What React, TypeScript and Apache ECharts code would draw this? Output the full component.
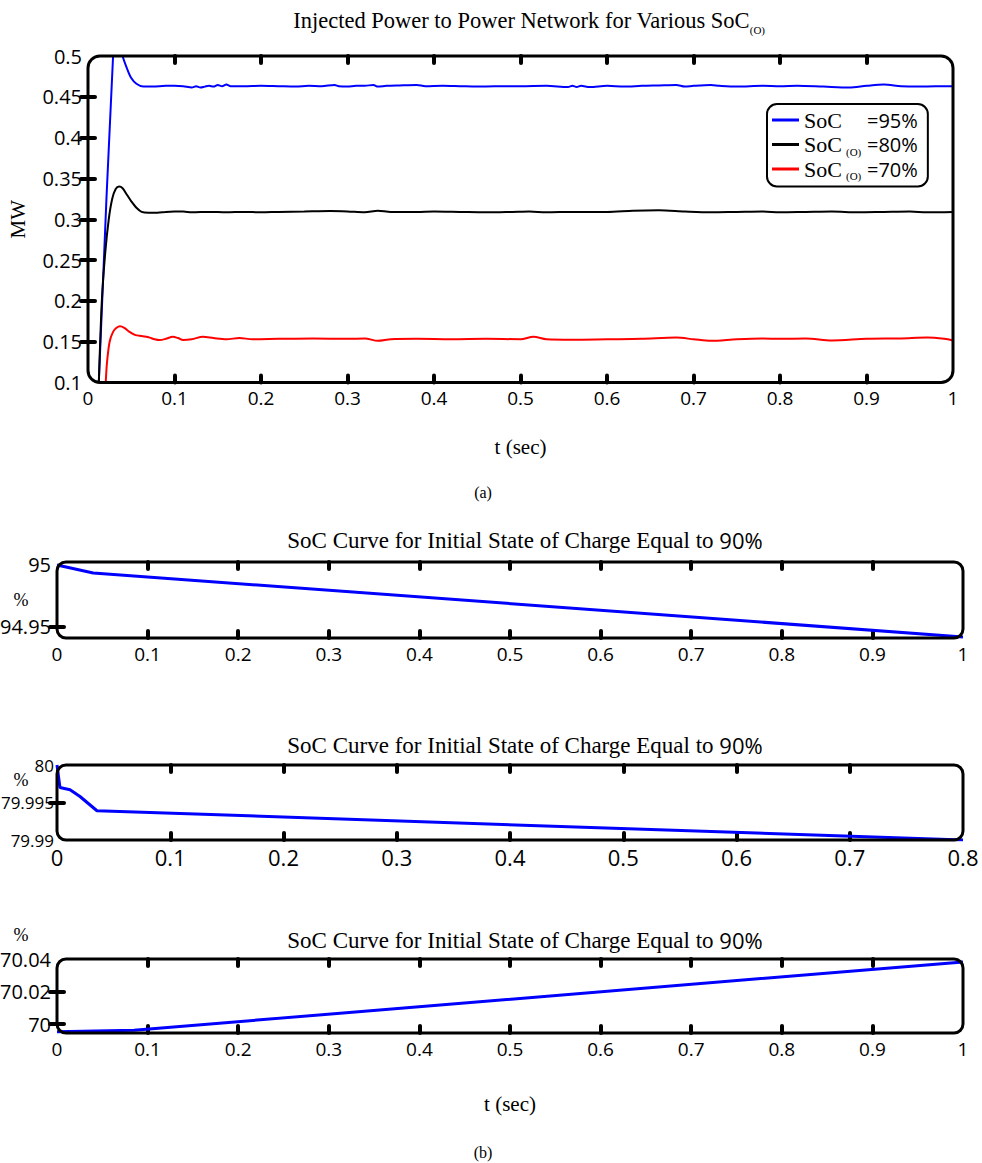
import React, { useEffect, useRef } from 'react';
import * as echarts from 'echarts';

// ---------- data ----------
const seriesNames = ['SoC=95%', 'SoC(O)=80%', 'SoC(O)=70%'];

const blueSoC95: number[][] = [
  [0.0125, 0.1], [0.029, 0.5], [0.034, 0.53], [0.040, 0.5], [0.045, 0.485], [0.05, 0.473],
  [0.056, 0.466], [0.064, 0.4625], [0.075, 0.4625], [0.09, 0.4635], [0.1, 0.4635], [0.11, 0.463],
  [0.12, 0.4615], [0.125, 0.463], [0.13, 0.4615], [0.135, 0.4625], [0.14, 0.4635], [0.145, 0.4625],
  [0.15, 0.4645], [0.155, 0.463], [0.16, 0.465], [0.165, 0.463], [0.18, 0.463], [0.2, 0.4635],
  [0.22, 0.463], [0.24, 0.4625], [0.255, 0.4635], [0.27, 0.463], [0.285, 0.4645], [0.29, 0.463],
  [0.3, 0.4625], [0.31, 0.4635], [0.32, 0.4635], [0.33, 0.4645], [0.335, 0.4625], [0.345, 0.4635],
  [0.36, 0.464], [0.38, 0.4645], [0.39, 0.463], [0.41, 0.4635], [0.43, 0.463], [0.45, 0.4625],
  [0.47, 0.463], [0.5, 0.463], [0.53, 0.4635], [0.555, 0.462], [0.56, 0.4635], [0.565, 0.462],
  [0.57, 0.4635], [0.58, 0.462], [0.6, 0.4635], [0.62, 0.4625], [0.64, 0.4635], [0.66, 0.464],
  [0.68, 0.4645], [0.69, 0.4625], [0.7, 0.4635], [0.72, 0.4645], [0.73, 0.4635], [0.75, 0.4625],
  [0.78, 0.4635], [0.8, 0.463], [0.82, 0.4635], [0.85, 0.4625], [0.88, 0.4615], [0.9, 0.4635],
  [0.92, 0.465], [0.94, 0.463], [0.96, 0.4625], [0.98, 0.463], [1, 0.463],
];

const blackSoC80: number[][] = [
  [0.0125, 0.1], [0.016, 0.2], [0.02, 0.26], [0.024, 0.3], [0.028, 0.325], [0.032, 0.337],
  [0.036, 0.34], [0.04, 0.338], [0.045, 0.33], [0.05, 0.322], [0.056, 0.314], [0.062, 0.309],
  [0.07, 0.308], [0.08, 0.308], [0.09, 0.309], [0.1, 0.3095], [0.11, 0.3095], [0.12, 0.3085],
  [0.14, 0.309], [0.16, 0.3085], [0.18, 0.309], [0.2, 0.3085], [0.22, 0.309], [0.25, 0.3095],
  [0.28, 0.31], [0.3, 0.3095], [0.32, 0.3085], [0.335, 0.3105], [0.35, 0.309], [0.38, 0.309],
  [0.4, 0.3095], [0.43, 0.309], [0.46, 0.3085], [0.49, 0.309], [0.51, 0.3095], [0.53, 0.3085],
  [0.56, 0.309], [0.6, 0.309], [0.63, 0.3105], [0.66, 0.311], [0.69, 0.3095], [0.72, 0.3085],
  [0.75, 0.309], [0.78, 0.3095], [0.8, 0.3085], [0.83, 0.309], [0.86, 0.3095], [0.89, 0.3085],
  [0.92, 0.309], [0.95, 0.3095], [0.97, 0.3085], [1, 0.309],
];

const redSoC70: number[][] = [
  [0.0205, 0.1], [0.022, 0.125], [0.025, 0.15], [0.029, 0.162], [0.033, 0.167], [0.037, 0.169],
  [0.042, 0.167], [0.048, 0.162], [0.055, 0.158], [0.062, 0.157], [0.07, 0.1555], [0.077, 0.153],
  [0.083, 0.152], [0.09, 0.1535], [0.098, 0.156], [0.104, 0.1545], [0.11, 0.152], [0.12, 0.153],
  [0.133, 0.156], [0.145, 0.1545], [0.16, 0.153], [0.175, 0.1545], [0.19, 0.153], [0.22, 0.1535],
  [0.26, 0.154], [0.3, 0.1535], [0.32, 0.154], [0.335, 0.151], [0.35, 0.153], [0.38, 0.1535],
  [0.42, 0.153], [0.46, 0.1535], [0.5, 0.153], [0.515, 0.156], [0.53, 0.153], [0.56, 0.1525],
  [0.6, 0.153], [0.64, 0.1535], [0.68, 0.155], [0.7, 0.153], [0.72, 0.151], [0.75, 0.153],
  [0.78, 0.154], [0.8, 0.1535], [0.83, 0.154], [0.86, 0.1515], [0.9, 0.1535], [0.94, 0.154],
  [0.97, 0.155], [0.99, 0.1535], [1, 0.1515],
];

const socCurve95: number[][] = [[0, 95.0], [0.04, 94.9935], [1, 94.9419]];
const socCurve80: number[][] = [
  [0, 80.0], [0.0026, 79.997], [0.0115, 79.9967], [0.0203, 79.9958], [0.0274, 79.9949],
  [0.0353, 79.9939], [0.8, 79.99],
];
const socCurve70: number[][] = [[0, 69.9953], [0.085, 69.9962], [1, 70.0382]];

// tick labels / tick positions
const xTicks10 = [0.1, 0.2, 0.3, 0.4, 0.5, 0.6, 0.7, 0.8, 0.9];
const xTicks8 = [0.1, 0.2, 0.3, 0.4, 0.5, 0.6, 0.7];
const yLabelsMain = [0.1, 0.15, 0.2, 0.25, 0.3, 0.35, 0.4, 0.45, 0.5];
const yTicksMain = [0.15, 0.2, 0.25, 0.3, 0.35, 0.4, 0.45];
const yLabels95 = [94.95, 95];
const yTicks95 = [94.95];
const yLabels80 = [79.99, 79.995, 80];
const yTicks80 = [79.995];
const yLabels70 = [70, 70.02, 70.04];
const yTicks70 = [70, 70.02];

const mainTitle = 'Injected Power to Power Network for Various SoC';
const socTitle = 'SoC Curve for Initial State of Charge Equal to ';

// ---------- styling / layout ----------
const SERIF = '"Liberation Serif", "Times New Roman", serif';
const SANS = '"Open Sans", "Noto Sans", sans-serif';

const GRIDS = [
  { l: 88, t: 56, w: 865, h: 326.5, r: 12 },
  { l: 57, t: 562, w: 906, h: 76, r: 9 },
  { l: 57, t: 765, w: 906, h: 75, r: 9 },
  { l: 57, t: 959, w: 906, h: 74, r: 9 },
];

const tickBase = {
  show: true,
  inside: true,
  length: 7,
  lineStyle: { color: '#000', width: 4, cap: 'round' },
};

function mkX(gridIndex: number, max: number, ticks: number[], labelSize: number, show: boolean, name?: string, nameGap?: number) {
  return {
    type: 'value',
    gridIndex,
    min: 0,
    max,
    interval: 0.1,
    position: show ? 'bottom' : 'top',
    axisLine: { show: false },
    splitLine: { show: false },
    axisTick: { ...tickBase, customValues: ticks },
    axisLabel: { show, margin: 6, fontFamily: SANS, fontSize: labelSize, color: '#000' },
    name: name || '',
    nameLocation: 'middle',
    nameGap: nameGap || 0,
    nameTextStyle: { fontFamily: SERIF, fontSize: 21, color: '#000' },
  };
}

function mkY(gridIndex: number, min: number, max: number, labels: number[], ticks: number[], labelSize: number, show: boolean, name?: string, nameGap?: number, margin?: number) {
  return {
    type: 'value',
    gridIndex,
    min,
    max,
    position: show ? 'left' : 'right',
    axisLine: { show: false },
    splitLine: { show: false },
    axisTick: { ...tickBase, customValues: ticks },
    axisLabel: { show, customValues: labels, margin: margin ?? 6, fontFamily: SANS, fontSize: labelSize, color: '#000' },
    name: name || '',
    nameLocation: 'middle',
    nameRotate: 90,
    nameGap: nameGap || 0,
    nameTextStyle: { fontFamily: SERIF, fontSize: 21, color: '#000' },
  };
}

function lineSeries(name: string, data: number[][], idx: number, color: string, width: number, smooth: number | boolean) {
  return {
    type: 'line',
    name,
    data,
    xAxisIndex: idx,
    yAxisIndex: idx,
    showSymbol: false,
    symbol: 'none',
    smooth,
    clip: true,
    lineStyle: { color, width },
    itemStyle: { color },
    z: 3,
  };
}

function titleText(x: number, y: number, main: string, tail: string, tailIsSub: boolean, size: number) {
  return {
    type: 'text',
    x,
    y,
    z: 20,
    style: {
      text: `{t|${main}}{s|${tail}}`,
      align: 'center',
      verticalAlign: 'middle',
      fill: '#000',
      rich: {
        t: { fontFamily: SERIF, fontSize: size, lineHeight: 30, fill: '#000' },
        s: tailIsSub
          ? { fontFamily: SERIF, fontSize: 11, lineHeight: 12, verticalAlign: 'bottom', fill: '#000' }
          : { fontFamily: SANS, fontSize: size - 1, lineHeight: 30, fill: '#000' },
      },
    },
  };
}

function plainText(x: number, y: number, text: string, size: number, family: string) {
  return {
    type: 'text',
    x,
    y,
    z: 20,
    style: { text, fontSize: size, fontFamily: family, fill: '#000', align: 'center', verticalAlign: 'middle' },
  };
}

export default function App() {
  const ref = useRef<HTMLDivElement>(null);

  useEffect(() => {
    document.body.style.margin = '0';
    if (!ref.current) return;
    const chart = echarts.init(ref.current, undefined, { renderer: 'svg' });

    const legendMap: Record<string, string> = {
      [seriesNames[0]]: '{a|SoC}{b| }{c|=95%}',
      [seriesNames[1]]: '{a|SoC}{b|(O)}{c|=80%}',
      [seriesNames[2]]: '{a|SoC}{b|(O)}{c|=70%}',
    };

    const option: any = {
      animation: false,
      backgroundColor: '#fff',
      grid: GRIDS.map((g) => ({
        left: g.l,
        top: g.t,
        width: g.w,
        height: g.h,
        containLabel: false,
        outerBoundsMode: 'none',
      })),
      xAxis: [
        mkX(0, 1, xTicks10, 19, true, 't (sec)', 54),
        mkX(0, 1, xTicks10, 19, false),
        mkX(1, 1, xTicks10, 19, true),
        mkX(1, 1, xTicks10, 19, false),
        mkX(2, 0.8, xTicks8, 22, true),
        mkX(2, 0.8, xTicks8, 22, false),
        mkX(3, 1, xTicks10, 19, true, 't (sec)', 60),
        mkX(3, 1, xTicks10, 19, false),
      ],
      yAxis: [
        mkY(0, 0.1, 0.5, yLabelsMain, yTicksMain, 20, true, 'MW', 60),
        mkY(0, 0.1, 0.5, yLabelsMain, yTicksMain, 20, false),
        mkY(1, 94.941, 95.0024, yLabels95, yTicks95, 20, true),
        mkY(1, 94.941, 95.0024, yLabels95, yTicks95, 20, false),
        mkY(2, 79.99, 80, yLabels80, yTicks80, 17, true, '', 0, 3),
        mkY(2, 79.99, 80, yLabels80, yTicks80, 17, false),
        mkY(3, 69.9945, 70.04, yLabels70, yTicks70, 20, true),
        mkY(3, 69.9945, 70.04, yLabels70, yTicks70, 20, false),
      ],
      legend: {
        data: seriesNames,
        orient: 'vertical',
        left: 767,
        top: 104,
        padding: [5, 10, 5, 5],
        itemGap: 1,
        itemWidth: 27,
        itemHeight: 3,
        icon: 'rect',
        borderColor: '#000',
        borderWidth: 2,
        borderRadius: 10,
        backgroundColor: '#fff',
        selectedMode: false,
        formatter: (name: string) => legendMap[name] || name,
        textStyle: {
          color: '#000',
          rich: {
            a: { fontFamily: SERIF, fontSize: 22, width: 42, lineHeight: 25, color: '#000' },
            b: { fontFamily: SERIF, fontSize: 11, width: 21, lineHeight: 13, verticalAlign: 'bottom', color: '#000' },
            c: { fontFamily: SANS, fontSize: 20, lineHeight: 25, color: '#000' },
          },
        },
      },
      series: [
        lineSeries(seriesNames[0], blueSoC95, 0, '#0000ff', 2, 0.3),
        lineSeries(seriesNames[1], blackSoC80, 0, '#000000', 2, 0.3),
        lineSeries(seriesNames[2], redSoC70, 0, '#ff0000', 2, 0.3),
        lineSeries('SoC 95', socCurve95, 2, '#0000ff', 3, false),
        lineSeries('SoC 80', socCurve80, 4, '#0000ff', 3, false),
        lineSeries('SoC 70', socCurve70, 6, '#0000ff', 3, false),
      ],
      graphic: [
        ...GRIDS.map((g) => ({
          type: 'rect',
          z: 15,
          silent: true,
          shape: { x: g.l, y: g.t, width: g.w, height: g.h, r: g.r },
          style: { fill: 'none', stroke: '#000', lineWidth: 3 },
        })),
        titleText(529, 20, mainTitle, '(O)', true, 22.5),
        titleText(525, 540, socTitle, '90%', false, 23),
        titleText(525, 745, socTitle, '90%', false, 23),
        titleText(525, 940, socTitle, '90%', false, 23),
        plainText(21, 600, '%', 18, SERIF),
        plainText(21, 780, '%', 18, SERIF),
        plainText(21, 935, '%', 18, SERIF),
        plainText(483, 492, '(a)', 16, SERIF),
        plainText(483, 1152, '(b)', 16, SERIF),
      ],
    };

    chart.setOption(option);
    return () => {
      chart.dispose();
    };
  }, []);

  return <div ref={ref} style={{ width: 982, height: 1163 }} />;
}
